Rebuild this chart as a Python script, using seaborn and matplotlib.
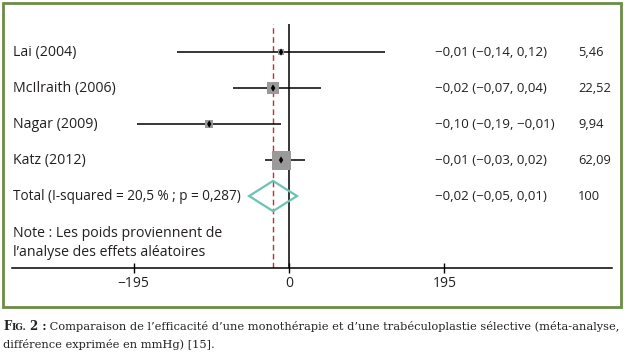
import matplotlib
matplotlib.use("Agg")
import matplotlib.pyplot as plt
import matplotlib.transforms as mtransforms
from matplotlib.patches import Rectangle, Polygon
import pandas as pd
import seaborn as sns

# data
studies = ["Lai (2004)", "McIlraith (2006)", "Nagar (2009)", "Katz (2012)"]
estimates = [-0.01, -0.02, -0.10, -0.01]
ci_low = [-0.14, -0.07, -0.19, -0.03]
ci_high = [0.12, 0.04, -0.01, 0.02]
weights = [5.46, 22.52, 9.94, 62.09]
est_labels = ["\u22120,01 (\u22120,14, 0,12)", "\u22120,02 (\u22120,07, 0,04)",
              "\u22120,10 (\u22120,19, \u22120,01)", "\u22120,01 (\u22120,03, 0,02)"]
weight_labels = ["5,46", "22,52", "9,94", "62,09"]

total_label = "Total (I-squared = 20,5 % ; p = 0,287)"
total_est = -0.02
total_low = -0.05
total_high = 0.01
total_est_label = "\u22120,02 (\u22120,05, 0,01)"
total_weight_label = "100"

note_lines = ["Note : Les poids proviennent de", "l\u2019analyse des effets al\u00e9atoires"]
tick_values = [-0.195, 0, 0.195]
tick_labels = ["\u2212195", "0", "195"]

caption_1 = (" Comparaison de l\u2019efficacit\u00e9 d\u2019une monoth\u00e9rapie et d\u2019une "
             "trab\u00e9culoplastie s\u00e9lective (m\u00e9ta-analyse,")
caption_2 = "diff\u00e9rence exprim\u00e9e en mmHg) [15]."

sns.set_theme(style="white")
plt.rcParams["font.family"] = ["Open Sans", "DejaVu Sans"]
TXT = "#231f20"

W, H = 624, 356
fig = plt.figure(figsize=(W / 100, H / 100), dpi=100)
ax = fig.add_axes([12 / W, (H - 268) / H, 600 / W, 244 / H])
ax.set_facecolor("none")

rows = list(range(len(studies)))
df = pd.DataFrame({"study": studies, "est": estimates, "lo": ci_low,
                   "hi": ci_high, "w": weights, "row": rows})

# CI lines
ax.hlines(df["row"], df["lo"], df["hi"], color="black", lw=1.1, zorder=2)

# weighted squares
sizes = {w: 3.0 * w for w in weights}
sns.scatterplot(data=df, x="est", y="row", size="w", sizes=sizes, marker="s",
                color="#9a9a9a", edgecolor="none", legend=False, ax=ax, zorder=3)
sns.scatterplot(data=df, x="est", y="row", marker="d", s=14, color="black",
                edgecolor="none", legend=False, ax=ax, zorder=4)

# reference lines
ax.axvline(0, color="black", lw=1.1, zorder=1)
ax.axvline(total_est, color="#b8323a", lw=1.0, ls=(0, (4, 2.5)), zorder=1)

# pooled diamond
total_row = len(studies)
hh = 0.42
ax.add_patch(Polygon([[total_low, total_row], [total_est, total_row - hh],
                      [total_high, total_row], [total_est, total_row + hh]],
                     closed=True, fill=False, edgecolor="#6cc3b2", lw=1.6, zorder=5))

ax.set_xlim((12 - 289) / 797.4, (612 - 289) / 797.4)
ax.set_ylim(6.0, -0.78)
ax.set_yticks([])
ax.set_xticks(tick_values)
ax.set_xticklabels(tick_labels)
ax.tick_params(axis="x", direction="inout", length=7, width=1, colors="black",
               labelcolor=TXT, labelsize=10, pad=2, bottom=True)
for s in ["left", "top", "right"]:
    ax.spines[s].set_visible(False)
ax.spines["bottom"].set_color("black")
ax.spines["bottom"].set_linewidth(1.1)
ax.set_xlabel("")
ax.set_ylabel("")

# text columns
trans = mtransforms.blended_transform_factory(fig.transFigure, ax.transData)
fs = 10.2
fs_num = 9.6
for i in rows:
    ax.text(13 / W, i, studies[i], transform=trans, fontsize=fs, color=TXT, va="center")
    ax.text(435 / W, i, est_labels[i], transform=trans, fontsize=fs_num, color=TXT, va="center")
    ax.text(578 / W, i, weight_labels[i], transform=trans, fontsize=9.3, color=TXT, va="center")
ax.text(13 / W, total_row, total_label, transform=trans, fontsize=9.8, color=TXT, va="center")
ax.text(435 / W, total_row, total_est_label, transform=trans, fontsize=fs_num, color=TXT, va="center")
ax.text(578 / W, total_row, total_weight_label, transform=trans, fontsize=9.3, color=TXT, va="center")
for k, line in enumerate(note_lines):
    ax.text(13 / W, 5.03 + 0.53 * k, line, transform=trans, fontsize=fs, color=TXT, va="center")

# green frame
fig.patches.append(Rectangle((3 / W, (H - 307) / H), 618 / W, 304 / H,
                             transform=fig.transFigure, fill=False,
                             edgecolor="#6b8c47", lw=2.0))

# caption: small-caps "FIG. 2 :" then regular text
serif = ["DejaVu Serif"]
cfs = 8.2
renderer = fig.canvas.get_renderer()
x = 3 / W
y1 = 1 - 327 / H
parts = [("F", 8.4, "bold"), ("IG.", 6.4, "bold"), (" 2 :", 8.4, "bold"), (caption_1, cfs, "normal")]
for txt, size, weight in parts:
    t = fig.text(x, y1, txt, fontsize=size, fontweight=weight, family=serif,
                 color="#222222", va="center")
    bb = t.get_window_extent(renderer)
    x += bb.width / W
fig.text(3 / W, 1 - 345 / H, caption_2, fontsize=cfs, family=serif, color="#222222", va="center")

fig.savefig("out.png", dpi=100)
